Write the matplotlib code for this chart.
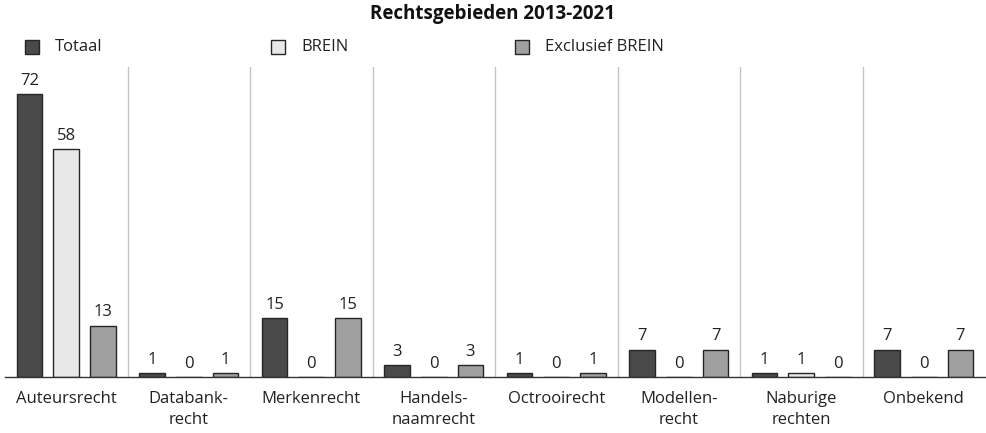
import numpy as np
import matplotlib
matplotlib.use("Agg")
import matplotlib.pyplot as plt
from matplotlib.patches import Rectangle

plt.rcParams['font.family'] = ['Open Sans', 'DejaVu Sans']

categories = ['Auteursrecht', 'Databank-\nrecht', 'Merkenrecht', 'Handels-\nnaamrecht',
              'Octrooirecht', 'Modellen-\nrecht', 'Naburige\nrechten', 'Onbekend']
series_names = ['Totaal', 'BREIN', 'Exclusief BREIN']
totaal = [72, 1, 15, 3, 1, 7, 1, 7]
brein = [58, 0, 0, 0, 0, 0, 1, 0]
exclusief = [13, 1, 15, 3, 1, 7, 0, 7]
colors = ['#4a4a4a', '#e8e8e8', '#a0a0a0']

fig = plt.figure(figsize=(9.86, 4.33), dpi=100)
ax = fig.add_axes([5/986, 56/433, 980/986, 310/433])

x = np.arange(len(categories))
width = 0.212
offset = 0.30

for i, (vals, col) in enumerate(zip([totaal, brein, exclusief], colors)):
    pos = x + (i - 1) * offset
    ax.bar(pos, vals, width, color=col, edgecolor='#262626', linewidth=1.0, zorder=3)
    for p, v in zip(pos, vals):
        ax.text(p, v + 1.4, str(v), ha='center', va='bottom', fontsize=12, color='#222222')

# separators between groups
for s in x[:-1] + 0.5:
    ax.axvline(s, color='#c4c4c4', linewidth=1.0, zorder=1)

ax.set_xlim(-0.5, len(categories) - 0.5)
ax.set_ylim(0, 79)
ax.set_yticks([])
ax.set_xticks(x)
ax.set_xticklabels(categories, fontsize=12, linespacing=1.45, color='#222222')
ax.tick_params(axis='x', length=0, pad=10)
for sp in ['top', 'right', 'left']:
    ax.spines[sp].set_visible(False)
ax.spines['bottom'].set_color('#333333')
ax.spines['bottom'].set_linewidth(1.0)
ax.spines['bottom'].set_zorder(4)

fig.text(0.5, 1 - 14/433, 'Rechtsgebieden 2013-2021', ha='center', va='center',
         fontsize=13.5, fontweight='bold', color='#111111')

# legend
leg_x = [25, 271, 515]
for lx, name, col in zip(leg_x, series_names, colors):
    fig.patches.append(Rectangle((lx/986, 1 - 54/433), 14/986, 14/433, transform=fig.transFigure,
                                 facecolor=col, edgecolor='#262626', linewidth=1.0))
    fig.text((lx + 30)/986, 1 - 47/433, name, ha='left', va='center', fontsize=12, color='#222222')

fig.savefig('out.png', dpi=100)
